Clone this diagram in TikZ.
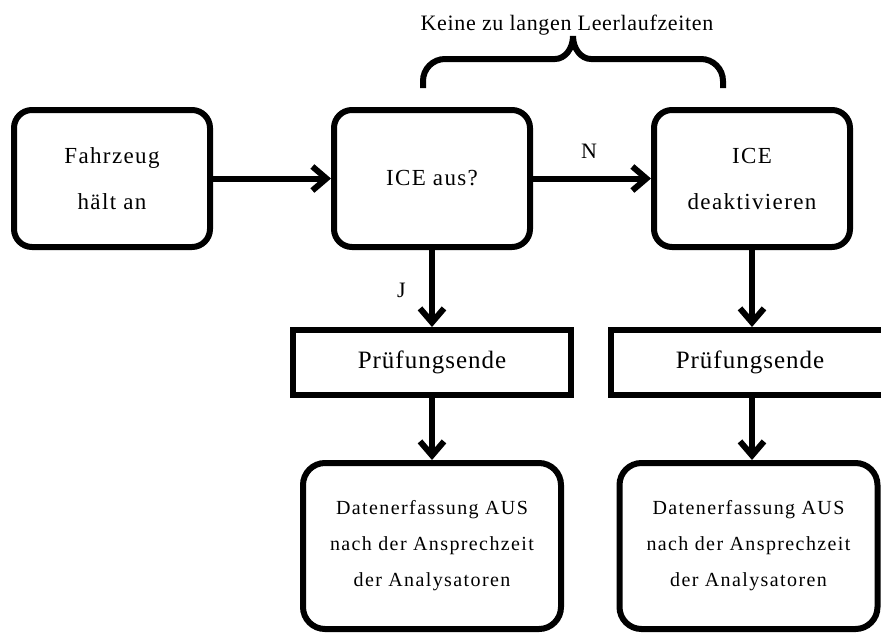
\documentclass[tikz,border=0pt]{standalone}
\usepackage{fontspec}
\setmainfont{Liberation Serif}
\usepackage{tikz}
\usetikzlibrary{
  arrows.meta,
  positioning
}

\begin{document}
\begin{tikzpicture}[
  x=1pt, y=1pt,
  rbox/.style={
    rectangle, rounded corners=18pt,
    draw=black, line width=6pt,
    minimum width=196pt, minimum height=137pt,
    font=\fontsize{23}{46}\selectfont\addfontfeatures{LetterSpace=6},
    align=center
  },
  endbox/.style={
    rectangle, draw=black, line width=6pt,
    minimum width=278pt, minimum height=65pt,
    font=\fontsize{25}{28}\selectfont\addfontfeatures{LetterSpace=4}
  },
  databox/.style={
    rectangle, rounded corners=22pt,
    draw=black, line width=6pt,
    minimum width=258pt, minimum height=166pt,
    font=\fontsize{20}{36}\selectfont\addfontfeatures{LetterSpace=7},
    align=center
  },
  arr/.style={
    -{Straight Barb[length=14pt,width=24pt]}, line width=6pt
  },
  lbl/.style={
    font=\fontsize{22}{26}\selectfont\addfontfeatures{LetterSpace=3}
  }
]
  \useasboundingbox (0,0) rectangle (881,-633);
  \clip (0,0) rectangle (881,-633);

  \node[rbox] (halt) at (112,-178.5) {Fahrzeug\\hält an};
  \node[rbox, right=118pt of halt] (iceaus) {ICE aus?};
  \node[rbox, right=118pt of iceaus] (icedeak) {ICE\\deaktivieren};

  \node[endbox, below=77pt of iceaus] (pruefa) {Prüfungsende};
  \node[endbox, below=77pt of icedeak, xshift=-2pt] (pruefb) {Prüfungsende};

  \node[databox, below=62pt of pruefa] (datena)
    {Datenerfassung AUS\\nach der Ansprechzeit\\der Analysatoren};
  \node[databox, below=62pt of pruefb, xshift=-1.5pt] (datenb)
    {Datenerfassung AUS\\nach der Ansprechzeit\\der Analysatoren};

  \draw[arr] (halt) -- (iceaus);
  \draw[arr] (iceaus) -- node[lbl, above=14pt, xshift=-3pt] (nlbl) {N} (icedeak);
  \draw[arr] (iceaus) -- node[lbl, left=20pt, yshift=-2pt] (jlbl) {J} (pruefa);
  \draw[arr] (icedeak.south) -- (icedeak.south |- pruefb.north);
  \draw[arr] (pruefa) -- (datena);
  \draw[arr] (icedeak.south |- pruefb.south) -- (icedeak.south |- datenb.north);

  % Brace over ICE aus? and ICE deaktivieren
  \coordinate (bracel) at (423,-88);
  \coordinate (bracer) at (723,-88);
  \draw[line width=6pt]
    (bracel) -- ++(0,7)
    arc[start angle=180, end angle=90, radius=22pt]
    -- (555,-59)
    arc[start angle=-90, end angle=0, x radius=18pt, y radius=23pt]
    coordinate (bracetip)
    arc[start angle=180, end angle=270, x radius=18pt, y radius=23pt]
    -- (701,-59)
    arc[start angle=90, end angle=0, radius=22pt]
    -- (bracer);
  \node[lbl, anchor=base] (idle) at (567,-30) {Keine zu langen Leerlaufzeiten};
\end{tikzpicture}
\end{document}
